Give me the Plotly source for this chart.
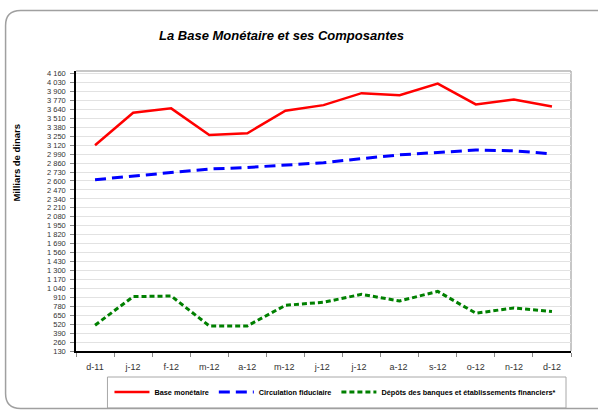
import plotly.graph_objects as go

months = ["d-11", "j-12", "f-12", "m-12", "a-12", "m-12 ", "j-12 ", "j-12  ", "a-12 ", "s-12", "o-12", "n-12", "d-12"]
base_monetaire = [3120, 3591, 3655, 3269, 3294, 3620, 3702, 3876, 3847, 4016, 3712, 3785, 3683]
circulation = [2619, 2673, 2725, 2774, 2797, 2832, 2865, 2925, 2980, 3014, 3050, 3038, 2995]
depots = [505, 920, 929, 495, 495, 794, 838, 953, 857, 996, 679, 755, 703]
y_ticks = list(range(130, 4161, 130))
y_ticktext = [f"{v:,}".replace(",", " ") for v in y_ticks]

L, R, T, B = 75.5, 571.0, 71.0, 351.0
W, H = R - L, B - T
def px(x): return (x - L) / W
def py(y): return (B - y) / H

fig = go.Figure()
fig.add_trace(go.Scatter(x=months, y=base_monetaire, name="Base monétaire", mode="lines",
                         line=dict(color="#ff0000", width=2.5)))
fig.add_trace(go.Scatter(x=months, y=circulation, name="Circulation fiduciaire", mode="lines",
                         line=dict(color="#0000ff", width=3, dash="11px,6px")))
fig.add_trace(go.Scatter(x=months, y=depots, name="Dépôts des banques et établissements financiers*", mode="lines",
                         line=dict(color="#008000", width=3, dash="5px,3px")))

font = "Liberation Sans, Arial, sans-serif"
fig.update_layout(
    template="none",
    width=598, height=410,
    margin=dict(l=L, r=598 - R, t=T, b=410 - B, pad=0, autoexpand=False),
    paper_bgcolor="white", plot_bgcolor="white",
    font=dict(family=font, size=8, color="#222"),
    showlegend=True,
    legend=dict(orientation="h", x=px(109), y=py(392), xanchor="left", yanchor="middle",
                borderwidth=0, bgcolor="rgba(0,0,0,0)",
                font=dict(family=font, size=7.3, color="#000", weight="bold"),
                itemwidth=35, tracegroupgap=0),
    xaxis=dict(type="category", range=[-0.5, 12.5], tickson="boundaries", ticks="outside",
               ticklen=4, tickcolor="#888", showline=True, linecolor="#000", linewidth=2,
               showgrid=False, tickfont=dict(size=9, color="#333"), automargin=False,
               ticklabelstandoff=6),
    yaxis=dict(range=[130, 4198], tickvals=y_ticks, ticktext=y_ticktext, ticks="outside",
               ticklen=4, tickcolor="#888", showline=True, linecolor="#000", linewidth=1.5,
               showgrid=True, gridcolor="#e2e2e2", gridwidth=1, zeroline=False,
               tickfont=dict(size=7.5, color="#333"), automargin=False, ticklabelstandoff=3),
)

# plot area grey frame (top/right)
fig.add_shape(type="line", xref="paper", yref="paper", x0=0, x1=1, y0=1, y1=1,
              line=dict(color="#b4b4b4", width=1.5), layer="below")
fig.add_shape(type="line", xref="paper", yref="paper", x0=1, x1=1, y0=0, y1=1,
              line=dict(color="#b4b4b4", width=1.5), layer="below")

# legend box
fig.add_shape(type="rect", xref="paper", yref="paper", x0=px(107), x1=px(566), y0=py(408), y1=py(377),
              line=dict(color="#a8a8a8", width=1), fillcolor="rgba(0,0,0,0)")

# outer rounded border
x0, x1, y0, y1 = px(5), px(605), py(408.5), py(10.5)
rx, ry = 15 / W, 15 / H
path = (f"M {x0+rx},{y1} L {x1},{y1} M {x0},{y0+ry} L {x0},{y1-ry} Q {x0},{y1} {x0+rx},{y1} "
        f"M {x0},{y0+ry} Q {x0},{y0} {x0+rx},{y0} L {x1},{y0}")
fig.add_shape(type="path", xref="paper", yref="paper", path=path,
              line=dict(color="#a0a0a0", width=1.5))

fig.add_annotation(text="La Base Monétaire et ses Composantes", xref="paper", yref="paper",
                   x=px(281), y=py(35), xanchor="center", yanchor="middle", showarrow=False,
                   font=dict(family=font, size=13, color="#000", weight="bold", style="italic"))
fig.add_annotation(text="Milliars de dinars", xref="paper", yref="paper",
                   x=px(15), y=py(163), xanchor="center", yanchor="middle", showarrow=False, textangle=-90,
                   font=dict(family=font, size=9.5, color="#000", weight="bold"))

fig.write_html("out.html", config={"displayModeBar": False},
               post_script="document.body.style.margin='0';")
